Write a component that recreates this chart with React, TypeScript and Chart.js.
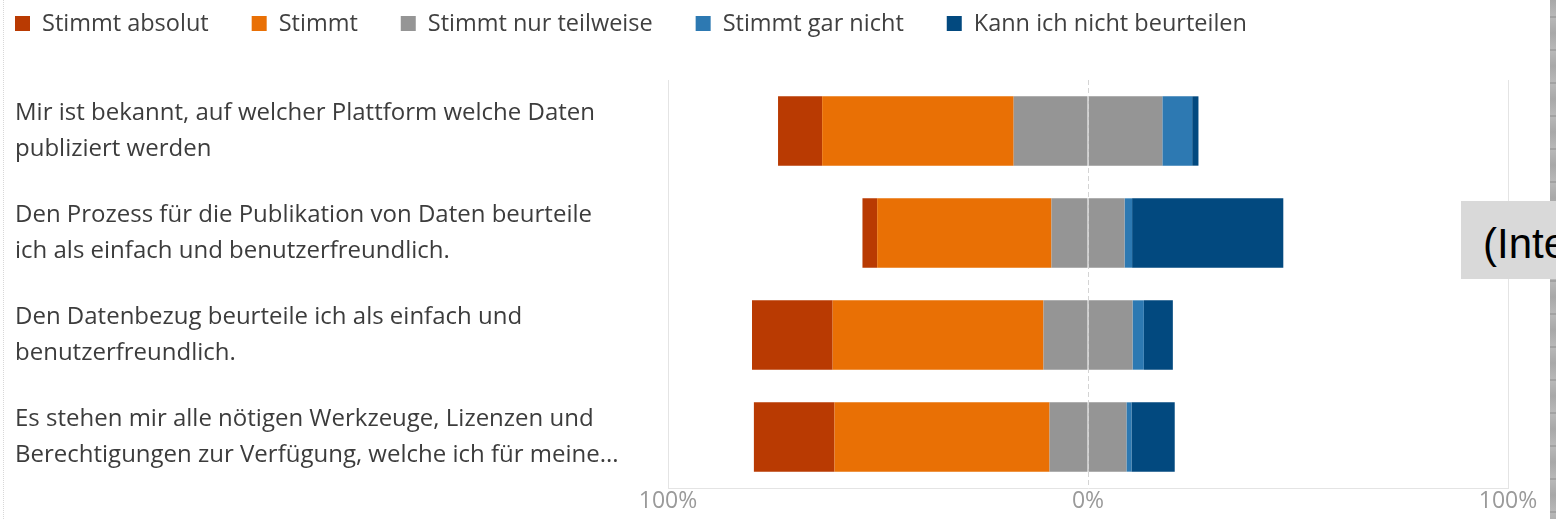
import React, { useEffect, useRef } from "react";
import { Chart, registerables } from "chart.js";

Chart.register(...registerables);

const categories: string[][] = [
  ["Mir ist bekannt, auf welcher Plattform welche Daten", "publiziert werden"],
  ["Den Prozess für die Publikation von Daten beurteile", "ich als einfach und benutzerfreundlich."],
  ["Den Datenbezug beurteile ich als einfach und", "benutzerfreundlich."],
  ["Es stehen mir alle nötigen Werkzeuge, Lizenzen und", "Berechtigungen zur Verfügung, welche ich für meine..."],
];

const seriesNames = [
  "Stimmt absolut",
  "Stimmt",
  "Stimmt nur teilweise",
  "Stimmt gar nicht",
  "Kann ich nicht beurteilen",
];
const seriesColors = ["#B93A02", "#E97005", "#959595", "#2D79B2", "#02497F"];

// percentages per category
const stimmtAbsolut = [10.5, 3.5, 19.2, 19.2];
const stimmt = [45.6, 41.5, 50.2, 51.2];
const teilweise = [35.4, 17.4, 21.2, 18.3];
const garNicht = [7.1, 1.8, 2.7, 1.2];
const kannNicht = [1.5, 36.0, 6.9, 10.3];

const xTickValues = [-100, 0, 100];
const xTickLabels = ["100%", "0%", "100%"];

const FONT = '"Open Sans", "Noto Sans", sans-serif';

const legendPlugin = {
  id: "topLegend",
  afterDraw(chart: any) {
    const ctx = chart.ctx;
    ctx.save();
    ctx.font = `23.5px ${FONT}`;
    ctx.textBaseline = "middle";
    ctx.textAlign = "left";
    let x = 15;
    seriesNames.forEach((name, i) => {
      ctx.fillStyle = seriesColors[i];
      ctx.fillRect(x, 16, 15, 15);
      ctx.fillStyle = "#404040";
      ctx.fillText(name, x + 27, 24);
      x = x + 27 + ctx.measureText(name).width + 43;
    });
    ctx.restore();
  },
};

const centerLinePlugin = {
  id: "centerLine",
  afterDatasetsDraw(chart: any) {
    const { ctx, chartArea, scales } = chart;
    const x = Math.round(scales.x.getPixelForValue(0)) + 0.5;
    ctx.save();
    ctx.strokeStyle = "#d4d4d4";
    ctx.lineWidth = 1;
    ctx.setLineDash([5, 3]);
    ctx.beginPath();
    ctx.moveTo(x, chartArea.top);
    ctx.lineTo(x, chartArea.bottom);
    ctx.stroke();
    ctx.restore();
  },
};

export default function App() {
  const canvasRef = useRef<HTMLCanvasElement | null>(null);

  useEffect(() => {
    if (!canvasRef.current) return;
    const common = { stack: "s", categoryPercentage: 1, barPercentage: 0.68, borderWidth: 0 };
    const chart = new Chart(canvasRef.current, {
      type: "bar",
      data: {
        labels: categories,
        datasets: [
          { label: seriesNames[2], data: teilweise.map((v) => -v / 2), backgroundColor: seriesColors[2], ...common },
          { label: seriesNames[1], data: stimmt.map((v) => -v), backgroundColor: seriesColors[1], ...common },
          { label: seriesNames[0], data: stimmtAbsolut.map((v) => -v), backgroundColor: seriesColors[0], ...common },
          { label: seriesNames[2], data: teilweise.map((v) => v / 2), backgroundColor: seriesColors[2], ...common },
          { label: seriesNames[3], data: garNicht, backgroundColor: seriesColors[3], ...common },
          { label: seriesNames[4], data: kannNicht, backgroundColor: seriesColors[4], ...common },
        ] as any,
      },
      options: {
        indexAxis: "y",
        responsive: false,
        animation: false,
        devicePixelRatio: 1,
        layout: { padding: { left: 15, top: 80, right: 48, bottom: 0 } },
        plugins: { legend: { display: false }, tooltip: { enabled: false } },
        scales: {
          x: {
            stacked: true,
            min: -100,
            max: 100,
            afterBuildTicks: (scale: any) => {
              scale.ticks = xTickValues.map((v) => ({ value: v }));
            },
            afterFit: (scale: any) => {
              scale.height = 31;
            },
            ticks: {
              callback: (_v: any, i: number) => xTickLabels[i],
              color: "#9a9a9a",
              font: { family: FONT, size: 23 },
              padding: 0,
              maxRotation: 0,
            },
            grid: {
              color: (c: any) => (c.tick && c.tick.value === 0 ? "rgba(0,0,0,0)" : "#e4e4e4"),
              drawTicks: false,
              lineWidth: 1,
            },
            border: { display: true, color: "#e4e4e4" },
          },
          y: {
            stacked: true,
            afterFit: (scale: any) => {
              scale.width = 668 - 15;
              scale.paddingTop = 0;
              scale.paddingBottom = 0;
            },
            ticks: {
              crossAlign: "far",
              color: "#3c3c3c",
              font: { family: FONT, size: 24, lineHeight: 1.5 },
              padding: 0,
            },
            grid: { display: false },
            border: { display: false },
          },
        },
      } as any,
      plugins: [legendPlugin, centerLinePlugin],
    });
    return () => chart.destroy();
  }, []);

  return (
    <div style={{ position: "absolute", left: 0, top: 0, width: 1556, height: 519, overflow: "hidden", background: "#fff" }}>
      <canvas ref={canvasRef} width={1556} height={519} style={{ position: "absolute", left: 0, top: 0 }} />
      <div style={{ position: "absolute", left: 3, top: 0, width: 0, height: 519, borderLeft: "1px dotted #d8d8d8" }} />
      <div
        style={{
          position: "absolute",
          left: 1550,
          top: 0,
          width: 6,
          height: 519,
          background: "repeating-linear-gradient(to bottom, #a8a8a8 0px, #b8b8b8 16px, #8c8c8c 17px, #b8b8b8 18px, #a8a8a8 33px)",
        }}
      />
      <div
        style={{
          position: "absolute",
          left: 1461,
          top: 201,
          width: 95,
          height: 78,
          background: "#d9d9d9",
          overflow: "hidden",
        }}
      >
        <span
          style={{
            position: "absolute",
            left: 22,
            top: 22,
            fontFamily: '"Liberation Sans", Arial, sans-serif',
            fontSize: 42,
            lineHeight: "42px",
            color: "#000",
            whiteSpace: "nowrap",
          }}
        >
          (Inte
        </span>
      </div>
    </div>
  );
}
